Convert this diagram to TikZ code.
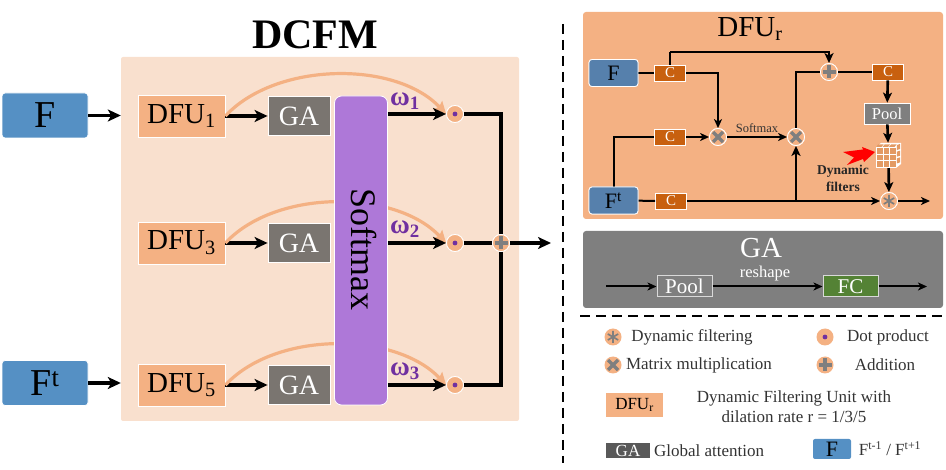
\documentclass[tikz,border=0pt]{standalone}
\usepackage{fontspec}
\setmainfont{Liberation Serif}
\usetikzlibrary{arrows.meta}

\definecolor{panelpeach}{HTML}{F9E0CE}
\definecolor{dfuorange}{HTML}{F4B183}
\definecolor{fblue}{HTML}{5590C4}
\definecolor{fdark}{HTML}{5680AC}
\definecolor{gagray}{HTML}{7A7570}
\definecolor{panelgray}{HTML}{7F7F7F}
\definecolor{softpurple}{HTML}{AE78D8}
\definecolor{wpurple}{HTML}{7030A0}
\definecolor{corange}{HTML}{C8600F}
\definecolor{cellorange}{HTML}{E39A63}
\definecolor{fcgreen}{HTML}{548235}
\definecolor{symgray}{HTML}{7F7F7F}

\newcommand{\fsz}[1]{\fontsize{#1}{#1}\selectfont}

\tikzset{
	box/.style={draw=white,line width=0.8pt,inner sep=0pt,align=center},
	fbox/.style={box,fill=fblue,rounded corners=3pt,minimum width=86pt,minimum height=45pt,font=\fsz{38}},
	fsmall/.style={box,fill=fdark,rounded corners=3pt,minimum width=49pt,minimum height=27pt,font=\fsz{22}},
	dfubox/.style={box,fill=dfuorange,minimum width=87pt,minimum height=42pt,font=\fsz{29}},
	gabox/.style={box,fill=gagray,text=white,minimum width=62pt,minimum height=39pt,font=\fsz{28}},
	cbox/.style={box,fill=corange,text=white,minimum width=31pt,minimum height=16pt,font=\fsz{15}},
	bigline/.style={line width=3.4pt,-{Stealth[length=13pt,width=12pt,inset=3.5pt]}},
	bigplain/.style={line width=3.4pt},
	smallline/.style={line width=2pt,-{Stealth[length=9pt,width=8pt,inset=2.5pt]}},
	midline/.style={line width=2.6pt,-{Stealth[length=10pt,width=9pt,inset=2.5pt]}},
	smallplain/.style={line width=2pt},
	curve/.style={dfuorange,line width=3.2pt,-{Stealth[length=12pt,width=12pt,inset=2pt]}},
	opnode/.style={circle,fill=dfuorange,draw=white,line width=0.8pt,minimum size=17pt,inner sep=0pt},
	opdot/.style={opnode,path picture={\fill[wpurple] (path picture bounding box.center) circle (2.4);}},
	opplus/.style={opnode,path picture={\draw[symgray,line width=3.4pt] (path picture bounding box.center) +(-6.5,0) -- +(6.5,0) +(0,-6.5) -- +(0,6.5);}},
	optimes/.style={opnode,path picture={\draw[symgray,line width=3.4pt] (path picture bounding box.center) +(-5,-5) -- +(5,5) +(-5,5) -- +(5,-5);}},
	opstar/.style={opnode,path picture={\draw[symgray,line width=1.7pt] (path picture bounding box.center) +(0,-6) -- +(0,6) +(-5.2,-3) -- +(5.2,3) +(-5.2,3) -- +(5.2,-3);}},
	legend/.style={inner sep=0pt,font=\fsz{17},text=black!80},
	wlabel/.style={inner sep=0pt,text=wpurple,font=\fsz{27}\bfseries}
}

\begin{document}
\begin{tikzpicture}[x=1pt,y=-1pt]
\useasboundingbox (0,0) rectangle (946,470);

% left part
\node[inner sep=0pt,font=\fsz{42}\bfseries] (title) at (315,35) {DCFM};
\node[fill=panelpeach,rounded corners=2pt,minimum width=398pt,minimum height=364pt,inner sep=0pt] (main) at (320,239) {};

\node[fbox] (f) at (45,115.5) {F};
\node[fbox] (ft) at (45,383) {F\textsuperscript{t}};

\foreach \i/\r/\y/\d in {1/1/116/114,2/3/243/243,3/5/385/385} {
	\node[dfubox] (dfu\i) at (181.5,\y) {DFU\textsubscript{\r}};
	\node[gabox] (ga\i) at (299,\y) {GA};
	\node[opdot] (dot\i) at (455,\d) {};
	\draw[bigline] (dfu\i) -- (ga\i);
	\draw[curve] (dfu\i.east) .. controls +(50,-54) and (395,\d-54) .. (dot\i.west);
}

\node[box,fill=softpurple,rounded corners=7pt,minimum width=53pt,minimum height=309pt] (softmax) at (361,250.5) {};
\node[inner sep=0pt,rotate=-90,font=\fsz{36}] (softmaxtext) at (364,249) {Softmax};

\node[opplus] (sum) at (501,243) {};
\coordinate (outmain) at (551,243);

\draw[bigline] (f) -- (f.east -| main.west);
\draw[bigline] (ft) -- (ft.east -| main.west);
\foreach \i in {1,2,3} {
	\draw[bigline] (softmax.east |- dot\i) -- (dot\i);
}
\draw[bigplain] (dot1) -- (sum |- dot1) -- (sum);
\draw[bigplain] (dot2) -- (sum);
\draw[bigplain] (dot3) -- (sum |- dot3) -- (sum);
\draw[bigline] (sum) -- (outmain);

\node[opdot] at (dot1) {};
\node[opdot] at (dot2) {};
\node[opdot] at (dot3) {};
\node[opplus] at (sum) {};

\node[wlabel] (w1) at (405,101) {ω\textsubscript{1}};
\node[wlabel] (w2) at (405,229) {ω\textsubscript{2}};
\node[wlabel] (w3) at (405,371) {ω\textsubscript{3}};

% dashed separators
\coordinate (vtop) at (563,24);
\coordinate (vbot) at (563,463);
\coordinate (hleft) at (580,316);
\coordinate (hright) at (946,316);
\draw[line width=1.4pt,dash pattern=on 10pt off 6pt] (vtop) -- (vbot);
\draw[line width=1.4pt,dash pattern=on 10pt off 6pt] (hleft) -- (hright);

% DFU_r panel
\node[fill=dfuorange,rounded corners=3pt,minimum width=360pt,minimum height=207pt,inner sep=0pt] (dfupanel) at (763,115.5) {};
\node[inner sep=0pt,font=\fsz{29}] (dfutitle) at (750,29) {DFU\textsubscript{r}};

\node[fsmall] (fa) at (613.5,73) {F};
\node[fsmall] (fb) at (613.5,200.5) {F\textsuperscript{t}};
\node[cbox] (c1) at (670,73) {C};
\node[cbox] (c2) at (670,137) {C};
\node[cbox] (c3) at (671,201) {C};
\node[cbox] (c4) at (888,72) {C};
\node[optimes] (mul1) at (718,137) {};
\node[optimes] (mul2) at (796,137) {};
\node[opplus] (add) at (829,72) {};
\node[opstar] (flt) at (889,201) {};
\node[box,fill=panelgray,text=white,minimum width=46pt,minimum height=21pt,font=\fsz{16.5}] (pool) at (887,113.5) {Pool};
\node[minimum width=25pt,minimum height=25pt,inner sep=0pt] (cube) at (888.5,155.5) {};
\coordinate (branch) at (796,201);
\coordinate (topline) at (670,52);
\coordinate (outdfu) at (930,201);

\draw[smallplain] (fa) -- (c1);
\draw[smallplain,line width=2.6pt] (c1) -- (topline);
\draw[midline] (topline) -- (topline -| add) -- (add);
\draw[smallline] (c1) -- (mul1 |- c1) -- (mul1);
\draw[smallplain] (fb.north) |- (c2);
\draw[smallline] (c2) -- (mul1);
\draw[smallline] (mul1) -- node[above=3pt,inner sep=0pt,font=\fsz{12.5},text=black!80] (softlabel) {Softmax} (mul2);
\draw[smallplain] (mul2) |- (add);
\draw[smallplain] (fb) -- (c3);
\draw[smallline] (c3) -- (flt);
\draw[midline] (branch) -- (mul2);
\draw[smallplain] (add) -- (c4);
\draw[midline] (c4) -- (pool);
\draw[midline] (pool) -- (cube);
\draw[midline] (cube) -- (flt);
\draw[smallline] (flt) -- (outdfu);

\node[fsmall] at (fa) {F};
\node[fsmall] at (fb) {F\textsuperscript{t}};
\node[cbox] at (c1) {C};
\node[cbox] at (c2) {C};
\node[optimes] at (mul1) {};
\node[optimes] at (mul2) {};
\node[opplus] at (add) {};
\node[opstar] at (flt) {};

% filter cube
\fill[dfuorange] (876,143) rectangle (901,168);
\fill[white] (876,147) -- (881,143) -- (901,143) -- (901,164) -- (896,168) -- (876,168) -- cycle;
\foreach \i in {0,1,2} {
	\foreach \j in {0,1,2} {
		\fill[cellorange] (877+\i*6.5,148+\j*6.7) rectangle +(5.5,5.7);
	}
	\fill[cellorange] (878+\i*6.5,144.5) -- +(5.5,0) -- +(3.5,2.5) -- +(-2,2.5) -- cycle;
	\fill[cellorange] (896.8,145+\i*6.7) -- +(3.2,-1) -- +(3.2,4) -- +(0,5) -- cycle;
}

% red arrow
\fill[red] (875,152) -- (862,147) -- (863,149.5) -- (843,152) -- (854,157.5) -- (847,165) -- (863,159) -- (864,162) -- cycle;
\node[inner sep=0pt,font=\fsz{13.5}\bfseries,align=center,text=black!85] (dynlabel) at (843,178.5) {Dynamic\\[3.5pt]filters};

% GA panel
\node[fill=panelgray,rounded corners=3pt,minimum width=360pt,minimum height=77pt,inner sep=0pt] (gapanel) at (763,269.5) {};
\node[inner sep=0pt,text=white,font=\fsz{29}] (gatitle) at (761,248) {GA};
\node[box,draw=white!85!black,line width=1pt,fill=panelgray,text=white,minimum width=55pt,minimum height=21pt,font=\fsz{21}] (gapool) at (684.5,286.5) {Pool};
\node[box,draw=white!85!black,line width=1pt,fill=fcgreen,text=white,minimum width=55pt,minimum height=21pt,font=\fsz{21}] (gafc) at (850.5,286.5) {FC};
\node[inner sep=0pt,text=white,font=\fsz{16.5}] (reshape) at (765,274) {reshape};
\coordinate (gain) at (606,286.5);
\coordinate (gaout) at (927,286.5);
\draw[smallline] (gain) -- (gapool);
\draw[smallline] (gapool) -- (gafc);
\draw[smallline] (gafc) -- (gaout);

% legend
\node[opstar,draw=none] (lgstar) at (613,337) {};
\node[legend] (lgstartext) at (692,337) {Dynamic filtering};
\node[opdot,draw=none] (lgdot) at (825,337) {};
\node[legend] (lgdottext) at (888,337) {Dot product};
\node[optimes,draw=none] (lgtimes) at (613,365) {};
\node[legend] (lgtimestext) at (699,365) {Matrix multiplication};
\node[opplus,draw=none] (lgplus) at (825,365) {};
\node[legend] (lgplustext) at (885,365) {Addition};
\node[box,draw=none,fill=dfuorange,minimum width=57pt,minimum height=24pt,font=\fsz{17}] (lgdfu) at (634.5,405) {DFU\textsubscript{r}};
\node[legend,align=center] (lgdfutext) at (794,406.5) {Dynamic Filtering Unit with\\[3pt]dilation rate r = 1/3/5};
\node[box,draw=none,fill=black!65,text=white,minimum width=44pt,minimum height=15pt,font=\fsz{17}] (lgga) at (628,450.5) {GA};
\node[legend] (lggatext) at (709,450.5) {Global attention};
\node[box,draw=none,fill=fblue,rounded corners=2pt,minimum width=38pt,minimum height=20pt,font=\fsz{22}] (lgf) at (832,449) {F};
\node[legend] (lgftext) at (890,449) {F\textsuperscript{t-1} / F\textsuperscript{t+1}};

\end{tikzpicture}
\end{document}
